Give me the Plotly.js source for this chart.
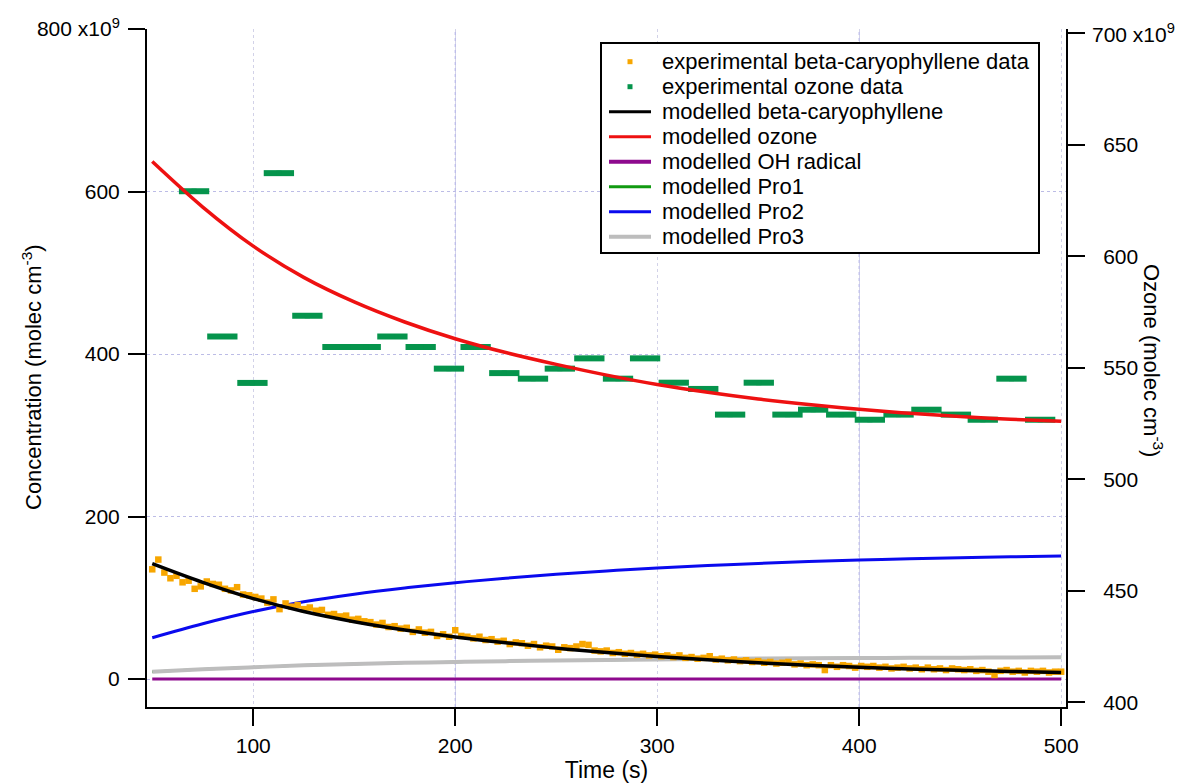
<!DOCTYPE html>
<html>
<head>
<meta charset="utf-8">
<script src="https://cdn.plot.ly/plotly-3.0.1.min.js"></script>
<style>
  html, body { margin: 0; padding: 0; background: #fff; }
  #chart { width: 1182px; height: 784px; }
</style>
</head>
<body>
<div id="chart"></div>
<script>
// ---- data (concentrations in units of 1e9 molec cm^-3, time in s) ----

// measured beta-caryophyllene
const bcpTime = [50,53,56,59,62,65,68,71,74,77,80,83,86,89,92,95,98,101,104,107,110,113,116,119,122,125,128,131,134,137,140,143,146,149,152,155,158,161,164,167,170,173,176,179,182,185,188,191,194,197,200,203,206,209,212,215,218,221,224,227,230,233,236,239,242,245,248,251,254,257,260,263,266,269,272,275,278,281,284,287,290,293,296,299,302,305,308,311,314,317,320,323,326,329,332,335,338,341,344,347,350,353,356,359,362,365,368,371,374,377,380,383,386,389,392,395,398,401,404,407,410,413,416,419,422,425,428,431,434,437,440,443,446,449,452,455,458,461,464,467,470,473,476,479,482,485,488,491,494,497,500];
const bcpMeasured = [135,147,131,124,127,119,121,111,114,120,117,116,111,109,113,104,103,101,99,94,98,86,93,89,91,86,88,84,85,79,80,77,78,73,74,71,70,67,69,64,65,62,63,58,61,57,58,53,55,52,60,53,52,50,52,48,49,46,47,43,45,44,41,43,39,41,40,36,39,38,40,43,42,35,34,35,32,33,31,32,30,31,29,30,28,29,27,29,26,27,25,26,28,24,25,23,24,22,23,21,22,20,21,19,20,21,18,19,17,18,17,11,17,15,17,16,14,16,15,16,14,15,13,14,15,13,14,12,14,12,13,11,13,12,11,12,10,11,9,5,10,11,9,10,8,10,9,10,8,9,9];

// measured ozone: start of each reading and its value (right axis)
const ozoneStart = [63.2,77.2,92.1,105.2,119.3,134.2,148.2,161.4,175.4,189.4,202.6,216.8,231.0,244.3,258.9,273.1,286.5,300.7,315.3,328.6,342.8,357.0,369.7,383.6,397.8,412.0,425.8,440.4,453.7,467.9,482.1];
const ozoneMeasured = [629.1,564.0,543.2,637.2,573.3,559.3,559.3,564.0,559.3,549.6,559.3,547.6,545.1,549.6,554.2,545.1,554.2,543.3,540.5,529.0,543.3,529.0,531.2,529.0,526.7,529.0,531.2,529.0,526.7,545.1,526.7];
const ozoneHold = 15; // s each reading is held

// model output
const modelTime = [50,75,100,125,150,175,200,225,250,275,300,325,350,375,400,425,450,475,500];
const modelBcp  = [142,119,99,83,70.5,60.3,51.8,44.5,38,32.5,27.7,23.6,20,17,14.5,12.4,10.7,9.3,8.1];
const modelO3   = [642.4,622,604.5,590.5,579.5,570.5,563,556.8,551.5,546.7,542.5,539,536,533.5,531.4,529.6,528.1,526.9,526];
const modelOH   = [0,0,0,0,0,0,0,0,0,0,0,0,0,0,0,0,0,0,0];
const modelPro1 = [9,12,14.5,16.8,18.5,19.9,21,22,22.8,23.5,24.1,24.6,25.1,25.5,25.8,26.1,26.3,26.5,26.7];
const modelPro2 = [50.8,68,83,95,104.4,112,118.5,124,128.8,133,136.5,139.6,142.3,144.6,146.5,148,149.3,150.4,151.3];
const modelPro3 = [9,12,14.5,16.8,18.5,19.9,21,22,22.8,23.5,24.1,24.6,25.1,25.5,25.8,26.1,26.3,26.5,26.7];

// axes
const xTicks = [100,200,300,400,500];
const xMajorGrid = [200,400];
const yTicks = [0,200,400,600,800];
const yTickText = ['0','200','400','600','800 x10<sup>9</sup>'];
const y2Ticks = [400,450,500,550,600,650,700];
const y2TickText = ['400','450','500','550','600','650',''];
const y2TopLabel = '700 x10<sup>9</sup>';

// legend entries
const legendNames = [
  'experimental beta-caryophyllene data',
  'experimental ozone data',
  'modelled beta-caryophyllene',
  'modelled ozone',
  'modelled OH radical',
  'modelled Pro1',
  'modelled Pro2',
  'modelled Pro3'
];

// ---- styling ----
const C = {
  bcpData: '#f7a600',
  o3Data: '#05944c',
  bcp: '#000000',
  o3: '#ee1111',
  oh: '#8e0a8e',
  pro1: '#119a11',
  pro2: '#0a0aee',
  pro3: '#bdbdbd'
};
const FONT = 'Arial, "Liberation Sans", sans-serif';

// plot area in pixels
const M = { l: 147, r: 116, t: 29, b: 77 };
const W = 1182, H = 784;
const PW = W - M.l - M.r, PH = H - M.t - M.b;
const px = x => (x - M.l) / PW;
const py = y => (H - M.b - y) / PH;

function line(name, y, color, width, axis) {
  return {
    type: 'scatter', mode: 'lines', name: name,
    x: modelTime, y: y, yaxis: axis || 'y',
    line: { color: color, width: width, shape: 'spline', smoothing: 1 },
    showlegend: false, hoverinfo: 'skip'
  };
}

const traces = [
  line(legendNames[4], modelOH, C.oh, 3),
  line(legendNames[5], modelPro1, C.pro1, 2.5),
  line(legendNames[6], modelPro2, C.pro2, 3),
  line(legendNames[7], modelPro3, C.pro3, 4),
  {
    type: 'scatter', mode: 'markers', name: legendNames[0],
    x: bcpTime, y: bcpMeasured,
    marker: { symbol: 'square', size: 6.5, color: C.bcpData, line: { width: 0 } },
    showlegend: false, hoverinfo: 'skip'
  },
  line(legendNames[2], modelBcp, C.bcp, 3.5),
  {
    type: 'scatter', mode: 'markers', name: legendNames[1], yaxis: 'y2',
    x: ozoneStart.map(t => t + ozoneHold / 2), y: ozoneMeasured,
    marker: { symbol: 'square', size: 5, color: C.o3Data, line: { width: 0 } },
    error_x: { type: 'constant', value: ozoneHold / 2, thickness: 6, width: 0, color: C.o3Data },
    showlegend: false, hoverinfo: 'skip'
  },
  line(legendNames[3], modelO3, C.o3, 3.5, 'y2')
];

// darker dotted grid lines at the major x ticks
const shapes = xMajorGrid.map(v => ({
  type: 'line', xref: 'x', yref: 'paper', layer: 'below',
  x0: v, x1: v, y0: 0, y1: 1,
  line: { color: '#a6a6e2', width: 1, dash: 'dot' }
}));

// legend box
const rowY = [61.7, 86.7, 111.7, 136.7, 161.7, 186.7, 211.7, 236.7];
const legendColors = [C.bcpData, C.o3Data, C.bcp, C.o3, C.oh, C.pro1, C.pro2, C.pro3];
const legendWidths = [0, 0, 3, 3, 4, 3, 3, 4];

shapes.push({
  type: 'rect', xref: 'paper', yref: 'paper', layer: 'above',
  x0: px(601), x1: px(1039), y0: py(253), y1: py(43),
  line: { color: '#000', width: 2 }, fillcolor: '#fff'
});
const annotations = [];
legendNames.forEach((name, i) => {
  if (i < 2) {
    shapes.push({
      type: 'rect', xref: 'paper', yref: 'paper', layer: 'above',
      x0: px(627.5), x1: px(632.5), y0: py(rowY[i] + 2.5), y1: py(rowY[i] - 2.5),
      line: { width: 0 }, fillcolor: legendColors[i]
    });
  } else {
    shapes.push({
      type: 'line', xref: 'paper', yref: 'paper', layer: 'above',
      x0: px(609), x1: px(651), y0: py(rowY[i]), y1: py(rowY[i]),
      line: { color: legendColors[i], width: legendWidths[i] }
    });
  }
  annotations.push({
    xref: 'paper', yref: 'paper', x: px(660), y: py(rowY[i]),
    xanchor: 'left', yanchor: 'middle', showarrow: false,
    text: name, font: { family: FONT, size: 22, color: '#000' }
  });
});

// top label of the ozone axis, with its exponent
annotations.push({
  xref: 'paper', yref: 'y2', x: px(1090), y: y2Ticks[y2Ticks.length - 1],
  xanchor: 'left', yanchor: 'middle', showarrow: false,
  text: y2TopLabel, font: { family: FONT, size: 21, color: '#000' }
});

// axis titles on both sides
annotations.push({
  xref: 'paper', yref: 'paper', x: px(32), y: py(377),
  xanchor: 'center', yanchor: 'middle', showarrow: false, textangle: -90,
  text: 'Concentration (molec cm<sup>-3</sup>)', font: { family: FONT, size: 22, color: '#000' }
});
annotations.push({
  xref: 'paper', yref: 'paper', x: px(1153), y: py(360),
  xanchor: 'center', yanchor: 'middle', showarrow: false, textangle: 90,
  text: 'Ozone (molec cm<sup>-3</sup>)', font: { family: FONT, size: 22, color: '#000' }
});

const axisCommon = {
  ticks: 'outside', ticklen: 17, tickwidth: 2, tickcolor: '#000',
  showline: true, linewidth: 2, linecolor: '#000',
  zeroline: false, automargin: false,
  tickfont: { family: FONT, size: 21, color: '#000' }
};

const layout = {
  width: W, height: H,
  margin: M,
  paper_bgcolor: '#fff', plot_bgcolor: '#fff',
  font: { family: FONT, size: 22, color: '#000' },
  showlegend: false,
  xaxis: Object.assign({}, axisCommon, {
    range: [47.4, 502.4], tickmode: 'array', tickvals: xTicks,
    showgrid: true, gridcolor: '#d2d2e8', griddash: 'dot', gridwidth: 1,
    ticklabelstandoff: 2,
    title: { text: 'Time (s)', font: { family: FONT, size: 23 }, standoff: 2 }
  }),
  yaxis: Object.assign({}, axisCommon, {
    range: [-34.46, 800], tickmode: 'array', tickvals: yTicks, ticktext: yTickText,
    showgrid: true, gridcolor: '#bcbce6', griddash: 'dot', gridwidth: 1,
    ticklabelstandoff: 4
  }),
  yaxis2: Object.assign({}, axisCommon, {
    overlaying: 'y', side: 'right', anchor: 'x',
    range: [397.98, 701.79], tickmode: 'array', tickvals: y2Ticks, ticktext: y2TickText,
    showgrid: false, ticklabelstandoff: 14
  }),
  shapes: shapes,
  annotations: annotations
};

Plotly.newPlot('chart', traces, layout, { staticPlot: true, displayModeBar: false });
</script>
</body>
</html>
